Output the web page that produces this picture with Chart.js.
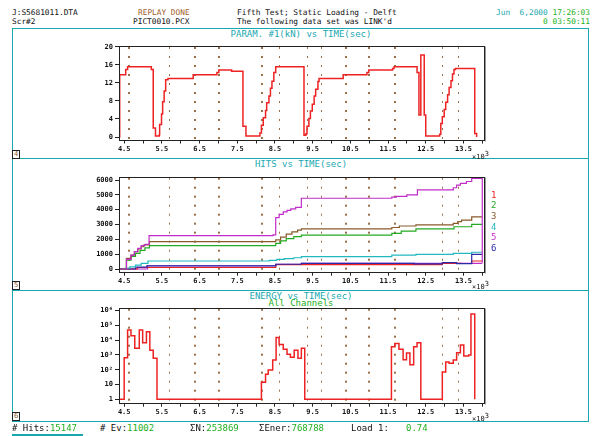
<!DOCTYPE html>
<html lang="en">
<head>
<meta charset="UTF-8">
<meta name="viewport" content="width=device-width, initial-scale=1.0">
<title>PICT0010.PCX</title>
<script src="https://cdn.jsdelivr.net/npm/chart.js@4.4.1/dist/chart.umd.min.js"></script>
<style>
  body { margin: 0; background: #fff; }
  #page { position: relative; width: 594px; height: 436px; overflow: hidden;
          font-family: 'DejaVu Sans Mono', 'Liberation Mono', monospace; }
  .t { position: absolute; white-space: pre; line-height: 1; }
  .hdr { font-size: 7.8px; color: #111; }
  .title { font-size: 9px; color: #1aa8b0; left: 4px; width: 594px; text-align: center; }
  .foot { font-size: 9px; top: 424px; color: #111; }
  .g { color: #22b022; }
  .teal { color: #1aa8b0; }
  .rule { position: absolute; background: #1aa8b0; }
  canvas { position: absolute; left: 0; }
  .box { position: absolute; left: 12px; width: 6px; height: 7px; border: 1px solid #222;
         font-size: 7px; line-height: 7px; text-align: center; color: #8b5a2b; background: #fff; }
  .leg { font-size: 9px; left: 491px; }
  .x3 { font-size: 7px; left: 472px; color: #111; }
  .x3 sup { font-size: 7px; vertical-align: 3px; }
</style>
</head>
<body>
<div id="page">
  <!-- header -->
  <div class="t hdr" style="left:12px;top:8.6px">J:S5681011.DTA</div>
  <div class="t hdr" style="left:138px;top:8.6px;color:#a0602a">REPLAY DONE</div>
  <div class="t hdr" style="left:237px;top:8.6px">Fifth Test; Static Loading - Delft</div>
  <div class="t hdr" style="right:4px;top:8.6px"><span class="teal">Jun  6,2000</span> <span class="g">17:26:03</span></div>
  <div class="t hdr" style="left:12px;top:17.6px">Scr#2</div>
  <div class="t hdr" style="left:133px;top:17.6px">PICT0010.PCX</div>
  <div class="t hdr" style="left:237px;top:17.6px">The following data set was LINK'd</div>
  <div class="t hdr g" style="right:4px;top:17.6px">0 03:50:11</div>

  <!-- panel frames -->
  <div class="rule" style="left:12px;top:28px;width:577px;height:1px"></div>
  <div class="rule" style="left:12px;top:158px;width:577px;height:1px"></div>
  <div class="rule" style="left:12px;top:290px;width:577px;height:1px"></div>
  <div class="rule" style="left:12px;top:421px;width:577px;height:1px"></div>
  <div class="rule" style="left:12px;top:28px;width:1px;height:394px"></div>
  <div class="rule" style="left:588px;top:28px;width:1px;height:394px"></div>

  <div class="t title" style="top:29.5px">PARAM. #1(kN) vs TIME(sec)</div>
  <div class="t title" style="top:160px">HITS vs TIME(sec)</div>
  <div class="t title" style="top:291.7px">ENERGY vs TIME(sec)</div>
  <div class="t title g" style="top:299px">All Channels</div>

  <canvas id="loadChart" width="594" height="129" style="top:29px"></canvas>
  <canvas id="hitsChart" width="594" height="131" style="top:159px"></canvas>
  <canvas id="energyChart" width="594" height="130" style="top:291px"></canvas>

  <div class="t x3" style="top:150.5px">×10<sup>3</sup></div>
  <div class="t x3" style="top:280.5px">×10<sup>3</sup></div>
  <div class="t x3" style="top:412.5px">×10<sup>3</sup></div>

  <div class="t leg" style="top:190.7px;color:#ee2222">1</div>
  <div class="t leg" style="top:201.4px;color:#22aa22">2</div>
  <div class="t leg" style="top:211.7px;color:#8b5a2b">3</div>
  <div class="t leg" style="top:222.7px;color:#22b8c0">4</div>
  <div class="t leg" style="top:233.4px;color:#c02cc8">5</div>
  <div class="t leg" style="top:243.7px;color:#2a2aaa">6</div>

  <div class="box" style="top:149.5px">4</div>
  <div class="box" style="top:280.5px">5</div>
  <div class="box" style="top:411.5px">6</div>

  <!-- footer -->
  <div class="t foot" style="left:12px"># Hits:<span class="g">15147</span></div>
  <div class="t foot" style="left:100px"># Ev:<span class="g">11002</span></div>
  <div class="t foot" style="left:190px">ΣN:<span class="g">253869</span></div>
  <div class="t foot" style="left:259px">ΣEner:<span class="g">768788</span></div>
  <div class="t foot" style="left:351px">Load 1:</div>
  <div class="t foot g" style="left:406px">0.74</div>
  <div class="rule" style="left:12px;top:434px;width:71px;height:2px"></div>
</div>

<script>
// time axis (x10^3 sec)
const timeTicks = [4.5, 5, 5.5, 6, 6.5, 7, 7.5, 8, 8.5, 9, 9.5, 10, 10.5, 11, 11.5, 12, 12.5, 13, 13.5, 14];
const timeLabelled = [4.5, 5.5, 6.5, 7.5, 8.5, 9.5, 10.5, 11.5, 12.5, 13.5];
// event marker times (dotted verticals)
const markerTimes = [4.59, 4.617, 5.68, 6.35, 6.377, 7.0, 7.027, 8.13, 8.157, 8.61, 9.35, 9.73,
                     10.35, 10.377, 10.98, 11.007, 11.65, 11.677, 12.92, 13.36];

// PARAM. #1 (kN)
const loadTimes = [4.362, 4.38, 4.54, 4.59, 5.22, 5.27, 5.33, 5.43, 5.44, 5.49, 5.52, 5.56, 5.60, 5.66,
  6.33, 6.96, 7.01, 7.35, 7.65, 7.73, 8.10, 8.14, 8.19, 8.25, 8.28, 8.34, 8.38, 8.42, 8.47, 8.52,
  9.27, 9.32, 9.35, 9.40, 9.44, 9.49, 9.54, 9.58, 9.64, 9.67, 10.31, 10.94, 10.99, 11.62, 11.66,
  12.27, 12.32, 12.37, 12.46, 12.50, 12.87, 12.90, 12.94, 12.99, 13.03, 13.08, 13.12, 13.17, 13.21,
  13.25, 13.29, 13.80, 13.85];
const loadValues = [0, 13.8, 15.0, 15.6, 15.0, 2.0, 0.2, 0.5, 2.8, 5.1, 7.8, 10.2, 12.7, 13.0,
  13.8, 14.3, 14.9, 14.6, 2.4, 0.2, 0.9, 2.6, 4.3, 5.9, 7.6, 9.1, 10.8, 12.4, 14.3, 15.6,
  0.4, 0.7, 2.4, 4.1, 5.8, 7.3, 9.1, 10.6, 12.3, 13.0, 13.8, 14.3, 14.9, 15.2, 15.6,
  14.3, 4.9, 18.2, 4.9, 0.2, 0.6, 3.0, 4.5, 6.1, 7.7, 9.4, 11.0, 12.5, 14.0,
  15.0, 15.2, 0.8, 0];
const loadTicks = [0, 4, 8, 12, 16, 20];

// HITS per channel
const hitsT1 = [4.362, 4.85, 8.52, 12.94, 13.45, 13.72, 14.0];
const hitsV1 = [0, 100, 300, 385, 370, 540, 540];
const hitsT2 = [4.362, 4.53, 4.56, 4.68, 4.80, 4.92, 5.05, 5.17, 8.52, 8.65, 8.80, 9.00, 9.20, 11.60, 11.85, 12.24, 13.25, 13.72, 14.0];
const hitsV2 = [0, 0, 600, 850, 1050, 1250, 1420, 1570, 1730, 1900, 2050, 2180, 2290, 2400, 2560, 2700, 2850, 3010, 3010];
const hitsT3 = [4.362, 4.53, 4.56, 4.68, 4.77, 4.86, 4.95, 5.02, 5.17, 8.52, 8.65, 8.80, 8.95, 9.10, 9.20, 11.60, 11.80, 12.24, 13.23, 13.35, 13.45, 13.72, 14.0];
const hitsV3 = [0, 0, 720, 940, 1170, 1350, 1500, 1620, 1840, 1960, 2150, 2350, 2500, 2620, 2700, 2800, 2900, 2970, 3080, 3200, 3300, 3510, 3510];
const hitsT4 = [4.362, 4.52, 4.65, 4.80, 4.95, 5.13, 8.35, 8.55, 8.75, 9.00, 9.20, 11.60, 12.24, 13.23, 13.72, 14.0];
const hitsV4 = [0, 50, 150, 260, 380, 540, 580, 650, 700, 760, 830, 940, 990, 1060, 1130, 1130];
const hitsT5 = [4.362, 4.53, 4.56, 4.68, 4.77, 4.86, 4.95, 5.05, 5.16, 8.45, 8.52, 8.61, 8.72, 8.82, 8.92, 9.05, 9.20,
  11.60, 11.72, 12.00, 12.28, 13.23, 13.32, 13.42, 13.58, 13.72, 14.0, 14.0];
const hitsV5 = [0, 0, 650, 940, 1170, 1390, 1570, 1660, 2250, 2300, 3460, 3690, 3850, 3950, 4050, 4160, 4770,
  4850, 4900, 5000, 5330, 5480, 5660, 5780, 5900, 6110, 6110, 420];
const hitsT5low = [4.362, 4.55, 5.12, 8.52, 9.20, 13.72, 14.0];
const hitsV5low = [0, 0, 220, 320, 380, 380, 380];
const hitsT6 = [4.362, 4.80, 5.10, 8.52, 9.20, 12.20, 12.94, 13.32, 13.72, 14.0];
const hitsV6 = [0, 120, 210, 320, 380, 340, 430, 360, 990, 990];
const hitsTicks = [0, 1000, 2000, 3000, 4000, 5000, 6000];

// ENERGY, all channels
const energyTimes = [4.362, 4.50, 4.59, 4.68, 4.78, 4.90, 4.99, 5.09, 5.18, 5.27, 5.37,
  8.14, 8.25, 8.32, 8.44, 8.53, 8.61, 8.72, 8.82, 8.91, 9.01, 9.11, 9.20, 9.29,
  11.59, 11.68, 11.79, 11.90, 11.99, 12.08, 12.18, 12.27, 12.37,
  12.94, 13.03, 13.12, 13.23, 13.32, 13.42, 13.51, 13.64, 13.70, 13.80];
const energyValues = [1, 650, 48000, 20000, 2800, 48000, 6600, 37000, 2100, 590, 1,
  14, 50, 95, 450, 15000, 5000, 2400, 1100, 700, 2100, 600, 2800, 1,
  3600, 5800, 2400, 480, 1350, 220, 3600, 6600, 1,
  70, 330, 270, 450, 1400, 4700, 850, 1000, 580000, 1];
const energyTicks = [1, 10, 100, 1000, 10000, 100000, 1000000];
const energyTickLabels = ['1', '10', '10²', '10³', '10⁴', '10⁵', '10⁶'];

const MONO = "'DejaVu Sans Mono', monospace";

function pts(ts, vs) {
  return ts.map((t, i) => ({ x: t, y: vs[i] }));
}

function line(ts, vs, color, width) {
  return { data: pts(ts, vs), borderColor: color, borderWidth: width, stepped: true,
           pointRadius: 0, fill: false, tension: 0 };
}

// dotted event markers and the black plot frame
const framePlugin = {
  id: 'frame',
  beforeDatasetsDraw(chart) {
    const a = chart.chartArea, ctx = chart.ctx, xs = chart.scales.x;
    ctx.save();
    ctx.strokeStyle = '#9b7048';
    ctx.lineWidth = 1;
    ctx.setLineDash([2, 7]);
    markerTimes.forEach(t => {
      const px = Math.round(xs.getPixelForValue(t)) + 0.5;
      ctx.beginPath();
      ctx.moveTo(px, a.top + 1);
      ctx.lineTo(px, a.bottom);
      ctx.stroke();
    });
    ctx.restore();
  },
  afterDatasetsDraw(chart) {
    const a = chart.chartArea, ctx = chart.ctx;
    ctx.save();
    ctx.strokeStyle = '#222';
    ctx.lineWidth = 1;
    const l = Math.round(a.left) + 0.5, r = Math.round(a.right) + 0.5;
    const t = Math.round(a.top) + 0.5, b = Math.round(a.bottom) + 0.5;
    ctx.strokeRect(l, t, r - l, b - t);
    ctx.strokeStyle = '#999';
    ctx.beginPath();
    ctx.moveTo(r + 1, t);
    ctx.lineTo(r + 1, b + 1);
    ctx.stroke();
    ctx.restore();
  }
};

function makeChart(id, padTop, xHeight, datasets, yScale) {
  return new Chart(document.getElementById(id), {
    type: 'line',
    data: { datasets: datasets },
    options: {
      responsive: false,
      animation: false,
      events: [],
      layout: { padding: { top: padTop, right: 110, left: 0, bottom: 0 } },
      plugins: { legend: { display: false }, tooltip: { enabled: false } },
      scales: {
        x: {
          type: 'linear', min: 4.362, max: 14.046,
          afterBuildTicks: s => { s.ticks = timeTicks.map(v => ({ value: v })); },
          afterFit: s => { s.height = xHeight; },
          grid: { drawOnChartArea: false, tickLength: 4, color: '#222' },
          border: { display: false },
          ticks: {
            autoSkip: false, maxRotation: 0, padding: 1, color: '#111',
            font: { family: MONO, size: 7, weight: 'bold' },
            callback: v => timeLabelled.includes(v) ? v.toFixed(1) : ''
          }
        },
        y: Object.assign({
          afterFit: s => { s.width = 119; },
          grid: { drawOnChartArea: false, tickLength: 4, color: '#222' },
          border: { display: false }
        }, yScale)
      }
    },
    plugins: [framePlugin]
  });
}

const yTickFont = { family: MONO, size: 7, weight: 'bold' };

makeChart('loadChart', 17, 18.5,
  [line(loadTimes, loadValues, '#ee2222', 1.5)],
  {
    type: 'linear', min: -0.55, max: 20.2,
    afterBuildTicks: s => { s.ticks = loadTicks.map(v => ({ value: v })); },
    ticks: { padding: 2, color: '#111', font: yTickFont, callback: v => String(v) }
  });

makeChart('hitsChart', 17.7, 18.3,
  [
    line(hitsT5, hitsV5, '#c02cc8', 1.2),
    line(hitsT3, hitsV3, '#8b5a2b', 1.2),
    line(hitsT2, hitsV2, '#22aa22', 1.2),
    line(hitsT4, hitsV4, '#22b8c0', 1.2),
    line(hitsT6, hitsV6, '#2a2aaa', 1.2),
    line(hitsT1, hitsV1, '#ee2222', 1.2),
    line(hitsT5low, hitsV5low, '#c02cc8', 1.2)
  ],
  {
    type: 'linear', min: -182, max: 6224,
    afterBuildTicks: s => { s.ticks = hitsTicks.map(v => ({ value: v })); },
    ticks: { padding: 2, color: '#111', font: yTickFont, callback: v => String(v) }
  });

makeChart('energyChart', 16.7, 18.3,
  [line(energyTimes, energyValues, '#ee2222', 1.5)],
  {
    type: 'logarithmic', min: 0.59, max: 1550000,
    afterBuildTicks: s => { s.ticks = energyTicks.map(v => ({ value: v })); },
    ticks: { padding: 2, color: '#111', font: yTickFont,
             callback: v => energyTickLabels[energyTicks.indexOf(v)] }
  });
</script>
</body>
</html>
